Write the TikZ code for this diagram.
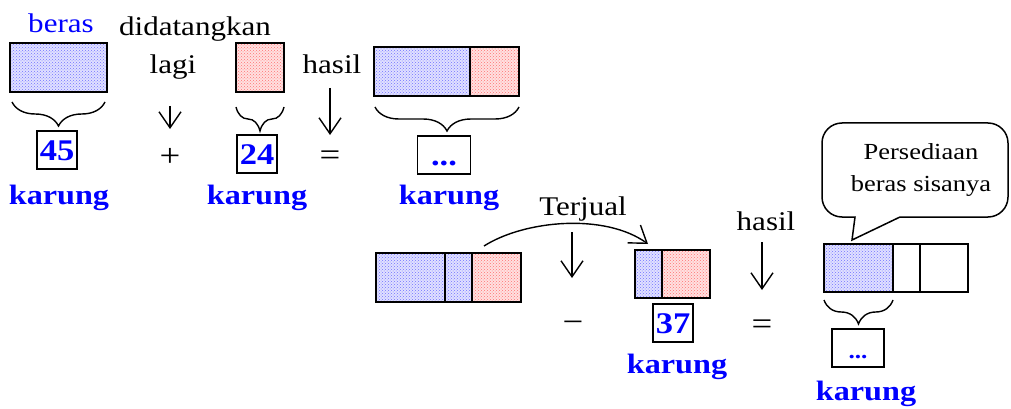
\documentclass[tikz,border=0pt]{standalone}
\usepackage{fontspec}
\setmainfont[FakeStretch=1.15]{Liberation Serif}
\usetikzlibrary{arrows.meta,decorations.pathreplacing,positioning,patterns}

\tikzset{
  kotak/.style={draw, line width=1.6pt, inner sep=0pt, outer sep=0pt, minimum height=49},
  biru/.style={kotak, preaction={fill=blue!12}, pattern=crosshatch dots, pattern color=blue!55},
  merah/.style={kotak, preaction={fill=red!12}, pattern=crosshatch dots, pattern color=red!55},
  kosong/.style={kotak, fill=white},
  angka/.style={draw, line width=1.6pt, text=blue, font=\fontsize{30}{30}\selectfont\bfseries,
    inner xsep=3pt, text height=21pt, text depth=1pt, minimum height=38},
  karung/.style={anchor=base, text=blue, font=\fontsize{28}{32}\selectfont\bfseries},
  tanda/.style={font=\fontsize{32}{32}\selectfont},
  kurung/.style={decorate, decoration={brace, amplitude=24pt}, line width=1.4pt},
  panah/.style={-{Straight Barb[length=16pt, width=22pt]}, line width=1.4pt}
}

\begin{document}
\begin{tikzpicture}[x=1pt, y=-1pt, font=\fontsize{27}{32}\selectfont]
  \useasboundingbox (0,0) rectangle (1011,409);

  % baris pertama: 45 + 24 = ...
  \node [anchor=base, text=blue] (beras) at (61,33) {beras};
  \node [biru, minimum width=97, anchor=north west] (b45) at (10,43) {};
  \draw [kurung] (105,102) -- (12,102);
  \node [angka] (n45) at (57,150) {45};
  \node [karung] (k45) at (59,204) {karung};

  \node [anchor=base] (datang) at (195,36) {didatangkan};
  \node [anchor=base] (lagi) at (173,74) {lagi};
  \coordinate (p1a) at (170,106);
  \coordinate (p1b) at (170,129);
  \draw [panah] (p1a) -- (p1b);
  \node [tanda] (plus) at (170,157) {+};

  \node [merah, minimum width=48, anchor=north west] (b24) at (236,43) {};
  \draw [kurung] (284,107) -- (236,107);
  \node [angka] (n24) at (257,154) {24};
  \node [karung] (k24) at (257,204) {karung};

  \node [anchor=base] (hasil1) at (332,74) {hasil};
  \coordinate (p2a) at (330,88);
  \coordinate (p2b) at (330,135);
  \draw [panah] (p2a) -- (p2b);
  \node [tanda] (sama1) at (330,158) {=};

  \node [biru, minimum width=96, anchor=north west] (j1) at (374,47) {};
  \node [merah, minimum width=49, right=0pt of j1] (j2) {};
  \draw [kurung] (519,107) -- (375,107);
  \node [angka, minimum width=53] (njml) at (444,155) {...};
  \node [karung] (kjml) at (449,204) {karung};

  % baris kedua: ... - 37 = ...
  \node [biru, minimum width=69, anchor=north west] (s1) at (376,253) {};
  \node [biru, minimum width=27, right=0pt of s1] (s2) {};
  \node [merah, minimum width=49, right=0pt of s2] (s3) {};

  \node [anchor=base] (jual) at (583,215) {Terjual};
  \coordinate (jualA) at (484,246);
  \coordinate (jualB) at (648,244);
  \draw [panah] (jualA) .. controls (525,220) and (605,213) .. (jualB);
  \coordinate (p3a) at (572,232);
  \coordinate (p3b) at (572,278);
  \draw [panah] (p3a) -- (p3b);
  \node [tanda] (minus) at (573,327) {−};

  \node [biru, minimum width=27, minimum height=48, anchor=north west] (m1) at (635,250) {};
  \node [merah, minimum width=48, minimum height=48, right=0pt of m1] (m2) {};
  \node [angka] (n37) at (673,323) {37};
  \node [karung] (k37) at (677,373) {karung};

  \node [anchor=base] (hasil2) at (766,230) {hasil};
  \coordinate (p4a) at (762,242);
  \coordinate (p4b) at (762,290);
  \draw [panah] (p4a) -- (p4b);
  \node [tanda] (sama2) at (762,327) {=};

  \node [biru, minimum width=69, minimum height=48, anchor=north west] (r1) at (824,244) {};
  \node [kosong, minimum width=27, minimum height=48, right=0pt of r1] (r2) {};
  \node [kosong, minimum width=48, minimum height=48, right=0pt of r2] (r3) {};
  \draw [kurung] (893,300) -- (824,300);
  \node [angka, minimum width=52, font=\fontsize{22}{22}\selectfont\bfseries] (nsisa) at (858,348) {...};
  \node [karung] (ksisa) at (866,400) {karung};

  % balon kata
  \draw [line width=1.5pt] (855,217) [rounded corners=20pt] -- (822,217) -- (822,123)
    -- (1008,123) -- (1008,217) -- (960,217) [sharp corners] -- (900,217) -- (852,240) -- cycle;
  \node [align=center, font=\fontsize{23}{32}\selectfont] (sisa) at (921,170) {Persediaan\\beras sisanya};
\end{tikzpicture}
\end{document}
